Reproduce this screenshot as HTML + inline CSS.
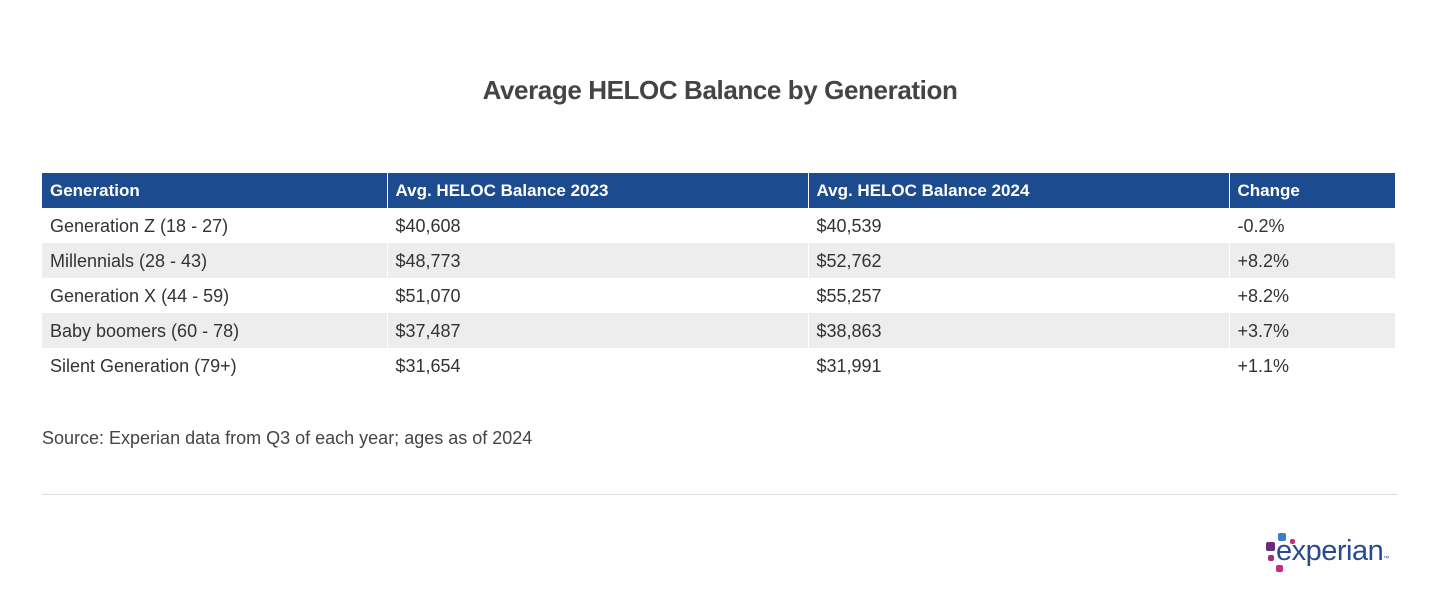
<!DOCTYPE html>
<html><head><style>
body{margin:0;width:1440px;height:611px;background:#fff;font-family:"Liberation Sans",sans-serif;color:#333;position:relative;overflow:hidden}
.t{position:absolute;top:75px;left:0;width:1440px;text-align:center;font-size:26px;font-weight:bold;color:#444;letter-spacing:-0.4px}
table{position:absolute;left:42px;top:173px;width:1353px;border-collapse:collapse;font-size:18px;table-layout:fixed}
td,th{height:35px;padding:1px 0 0 8px;text-align:left;border-right:1px solid #fff;box-sizing:border-box}
th{background:#1d4b8f;color:#fff;font-weight:bold;height:35px;font-size:17px}
tr.g td{background:#ededed}
.s{position:absolute;left:42px;top:428px;font-size:18px;color:#444}
.l{position:absolute;left:42px;top:494px;width:1355px;height:1px;background:#ddd}
.logo{position:absolute;left:1276px;top:535px;font-size:29px;color:#2a4a8f;letter-spacing:-0.5px}
.d{position:absolute;border-radius:2px}
</style></head><body>
<div class="t">Average HELOC Balance by Generation</div>
<table>
<colgroup><col style="width:345px"><col style="width:421px"><col style="width:421px"><col style="width:166px"></colgroup>
<tr><th>Generation</th><th>Avg. HELOC Balance 2023</th><th>Avg. HELOC Balance 2024</th><th>Change</th></tr>
<tr><td>Generation Z (18 - 27)</td><td>$40,608</td><td>$40,539</td><td>-0.2%</td></tr>
<tr class="g"><td>Millennials (28 - 43)</td><td>$48,773</td><td>$52,762</td><td>+8.2%</td></tr>
<tr><td>Generation X (44 - 59)</td><td>$51,070</td><td>$55,257</td><td>+8.2%</td></tr>
<tr class="g"><td>Baby boomers (60 - 78)</td><td>$37,487</td><td>$38,863</td><td>+3.7%</td></tr>
<tr><td>Silent Generation (79+)</td><td>$31,654</td><td>$31,991</td><td>+1.1%</td></tr>
</table>
<div class="s">Source: Experian data from Q3 of each year; ages as of 2024</div>
<div class="l"></div>
<div class="d" style="left:1278px;top:533px;width:8px;height:8px;background:#3d7cc9"></div>
<div class="d" style="left:1290px;top:539px;width:5px;height:5px;background:#c4307f"></div>
<div class="d" style="left:1266px;top:542px;width:9px;height:9px;background:#6b2a7e"></div>
<div class="d" style="left:1268px;top:555px;width:6px;height:6px;background:#a0307f"></div>
<div class="d" style="left:1276px;top:565px;width:7px;height:7px;background:#c4307f"></div>
<div class="logo">experian<span style="font-size:6px">™</span></div>
</body></html>
